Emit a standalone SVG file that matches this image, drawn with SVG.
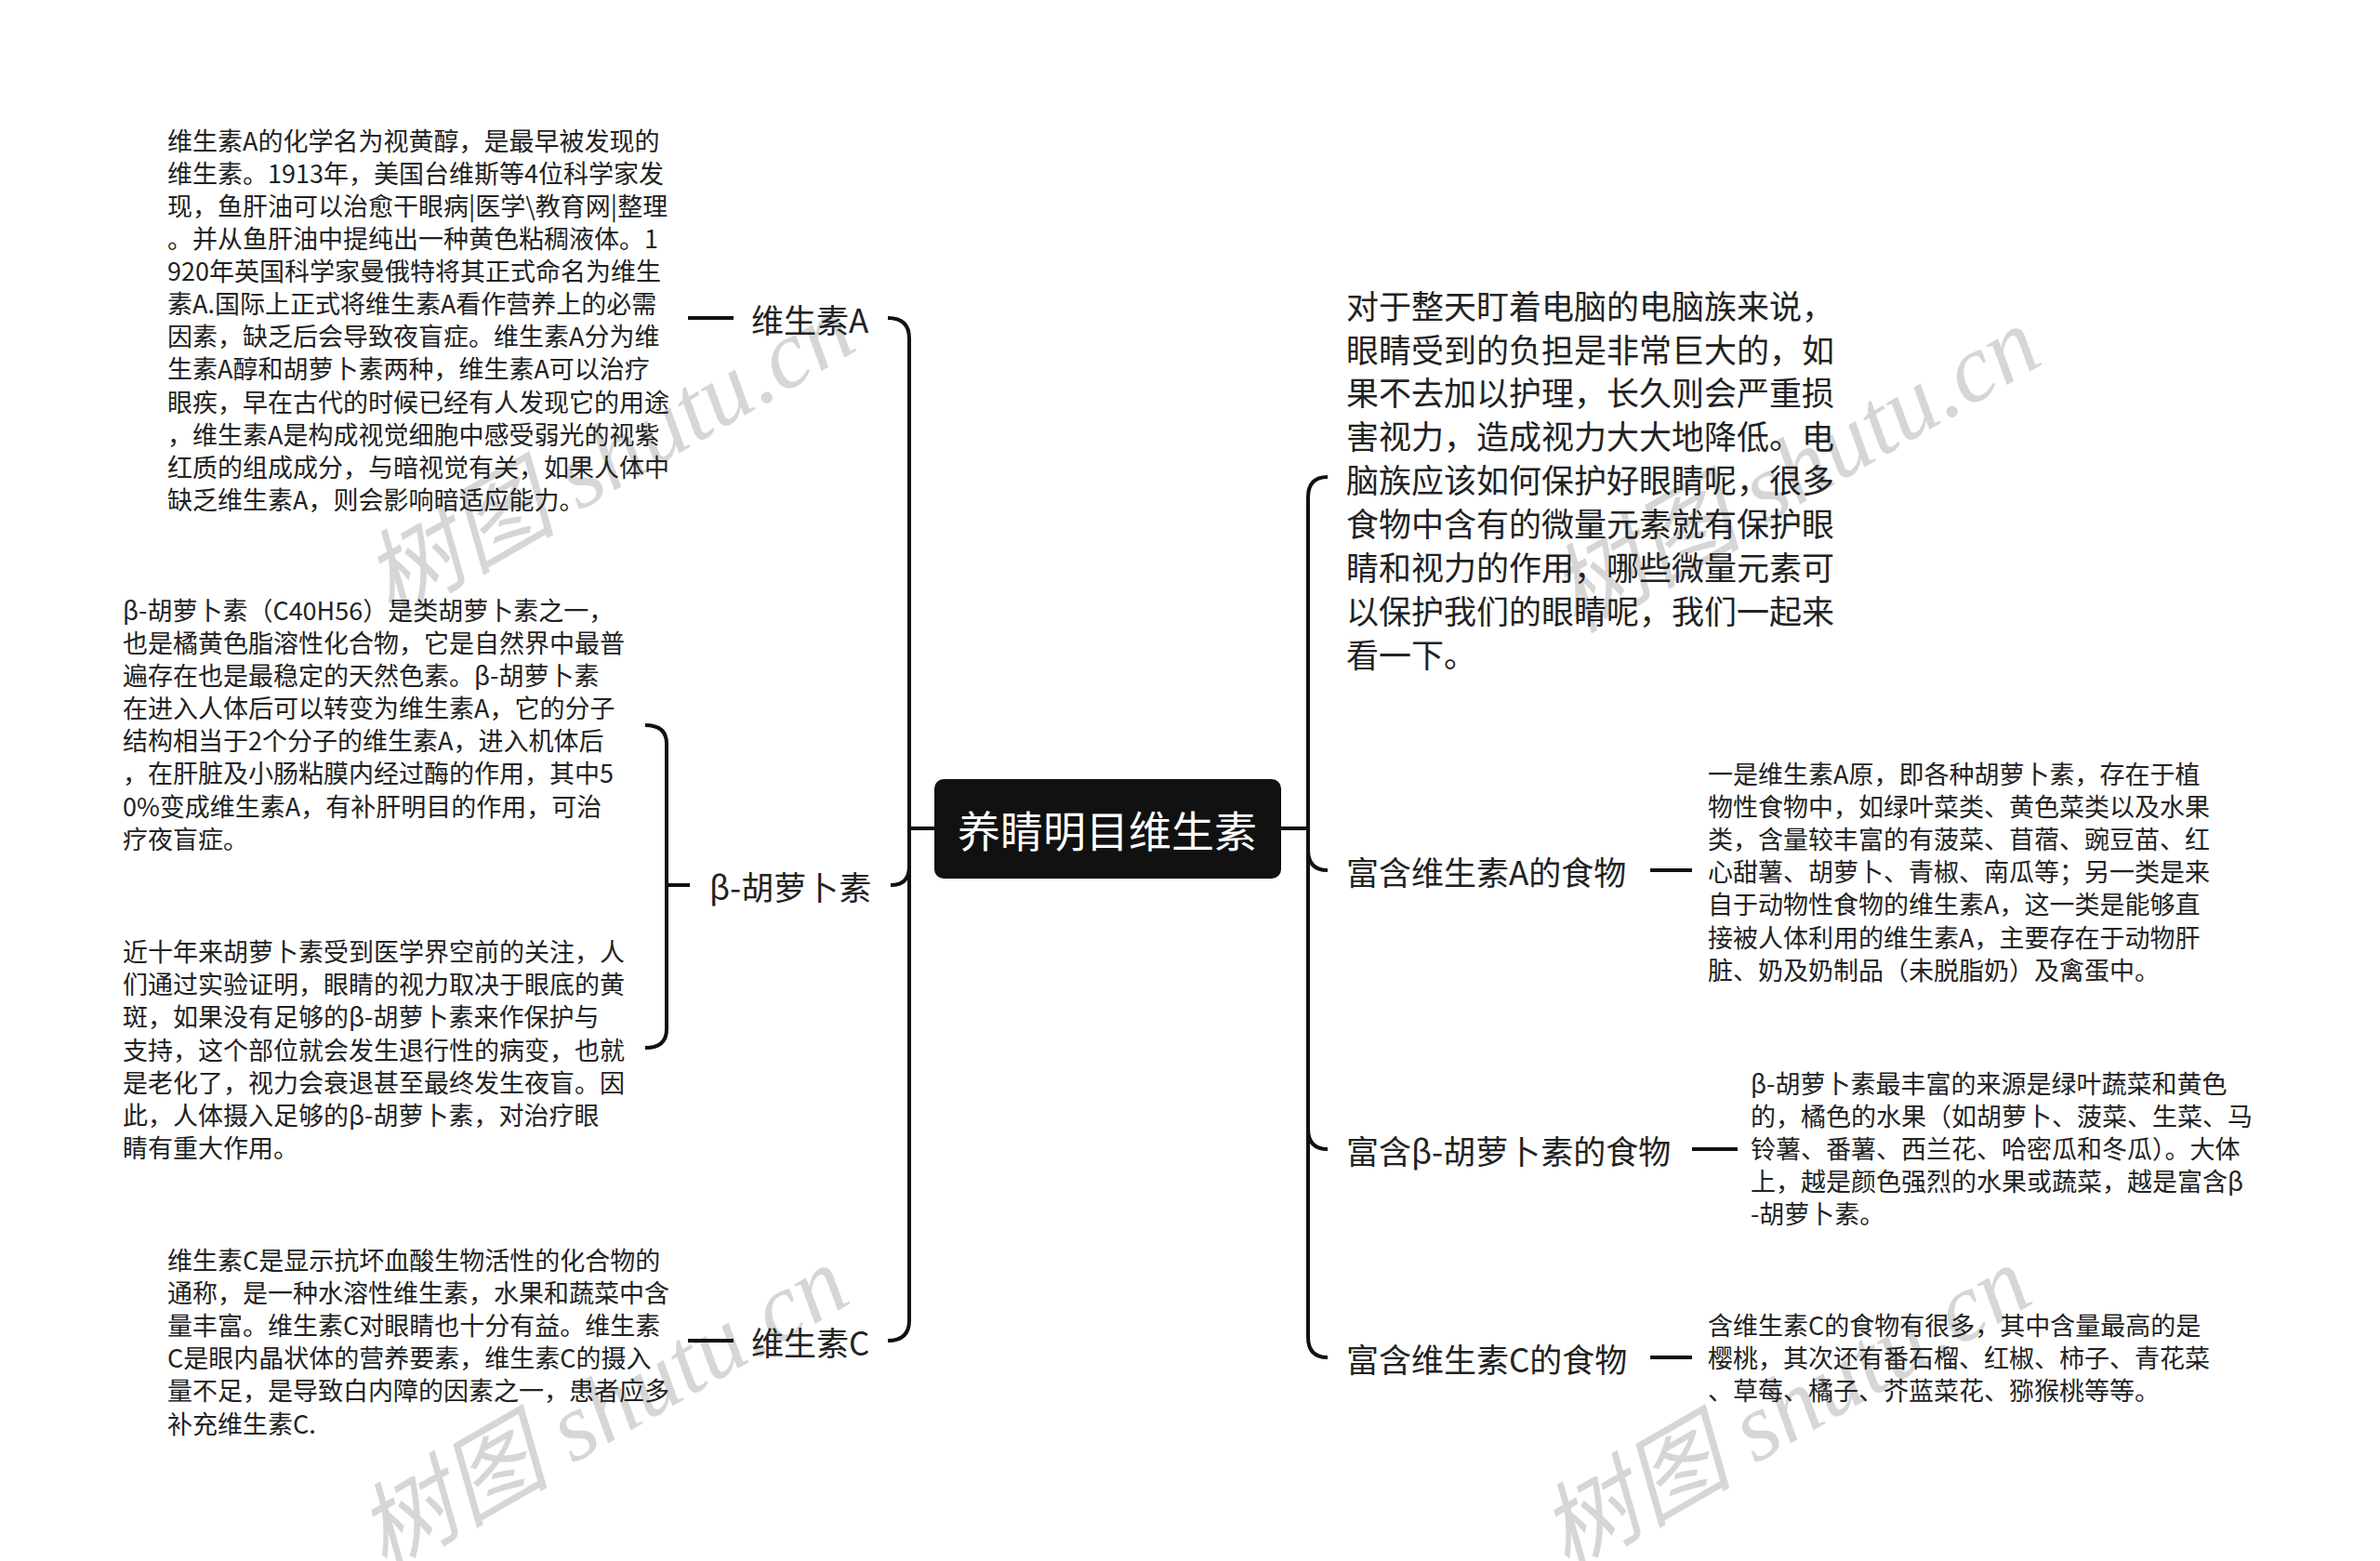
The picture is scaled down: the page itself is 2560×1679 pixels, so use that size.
<svg xmlns="http://www.w3.org/2000/svg" width="2560" height="1679" viewBox="0 0 2560 1679">
<style>
  .t{font-family:"Noto Sans CJK SC","Noto Sans",sans-serif;fill:#222;dominant-baseline:central}
  .s{font-size:27px}
  .m{font-size:35px}
  .root{font-family:"Noto Sans CJK SC","Noto Sans",sans-serif;font-size:46px;fill:#fff;dominant-baseline:central;text-anchor:middle}
  .wm{font-family:"Liberation Serif","Noto Sans CJK SC",serif;font-style:italic;font-size:104px;fill:#d6d6d6;text-anchor:middle;dominant-baseline:central}
  .ln{fill:none;stroke:#111;stroke-width:4;stroke-linecap:butt}
</style>
<rect width="2560" height="1679" fill="#fff"/>
<g id="watermarks">
  <text class="wm" transform="translate(655,490) rotate(-30)">树图 shutu.cn</text>
  <text class="wm" transform="translate(1930,505) rotate(-30)">树图 shutu.cn</text>
  <text class="wm" transform="translate(648,1515) rotate(-30)">树图 shutu.cn</text>
  <text class="wm" transform="translate(1920,1515) rotate(-30)">树图 shutu.cn</text>
</g>
<g id="connectors">
  <path class="ln" d="M978,891 L1005,891"/>
  <path class="ln" d="M955,342 Q978,342 978,364 L978,1420 Q978,1442 955,1442"/>
  <path class="ln" d="M978,932 Q978,952 958,952"/>
  <path class="ln" d="M740,342 L789,342"/>
  <path class="ln" d="M717,952 L742,952"/>
  <path class="ln" d="M740,1442 L789,1442"/>
  <path class="ln" d="M694,780 Q717,780 717,800 L717,1107 Q717,1127 694,1127"/>
  <path class="ln" d="M1378,891 L1407,891"/>
  <path class="ln" d="M1428,513 Q1407,513 1407,535 L1407,1438 Q1407,1460 1428,1460"/>
  <path class="ln" d="M1407,914 Q1407,936 1428,936"/>
  <path class="ln" d="M1407,1214 Q1407,1236 1428,1236"/>
  <path class="ln" d="M1775,936 L1820,936"/>
  <path class="ln" d="M1820,1236 L1869,1236"/>
  <path class="ln" d="M1775,1460 L1820,1460"/>
</g>
<g id="root">
  <rect x="1005" y="838" width="373" height="107" rx="10" fill="#111"/>
  <text class="root" x="1191" y="891">养睛明目维生素</text>
</g>
<g id="node-va">
  <text class="t m" x="808" y="342">维生素A</text>
</g>
<g id="node-va-desc">
  <text class="t s">
    <tspan x="180" y="150">维生素A的化学名为视黄醇，是最早被发现的</tspan>
    <tspan x="180" y="185">维生素。1913年，美国台维斯等4位科学家发</tspan>
    <tspan x="180" y="220">现，鱼肝油可以治愈干眼病|医学\教育网|整理</tspan>
    <tspan x="180" y="255">。并从鱼肝油中提纯出一种黄色粘稠液体。1</tspan>
    <tspan x="180" y="290">920年英国科学家曼俄特将其正式命名为维生</tspan>
    <tspan x="180" y="325">素A.国际上正式将维生素A看作营养上的必需</tspan>
    <tspan x="180" y="360">因素，缺乏后会导致夜盲症。维生素A分为维</tspan>
    <tspan x="180" y="395">生素A醇和胡萝卜素两种，维生素A可以治疗</tspan>
    <tspan x="180" y="431">眼疾，早在古代的时候已经有人发现它的用途</tspan>
    <tspan x="180" y="466">，维生素A是构成视觉细胞中感受弱光的视紫</tspan>
    <tspan x="180" y="501">红质的组成成分，与暗视觉有关，如果人体中</tspan>
    <tspan x="180" y="536">缺乏维生素A，则会影响暗适应能力。</tspan>
  </text>
</g>
<g id="node-bc">
  <text class="t m" x="763" y="952">β-胡萝卜素</text>
</g>
<g id="node-bc-desc1">
  <text class="t s">
    <tspan x="132" y="655">β-胡萝卜素（C40H56）是类胡萝卜素之一，</tspan>
    <tspan x="132" y="690">也是橘黄色脂溶性化合物，它是自然界中最普</tspan>
    <tspan x="132" y="725">遍存在也是最稳定的天然色素。β-胡萝卜素</tspan>
    <tspan x="132" y="760">在进入人体后可以转变为维生素A，它的分子</tspan>
    <tspan x="132" y="795">结构相当于2个分子的维生素A，进入机体后</tspan>
    <tspan x="132" y="830">，在肝脏及小肠粘膜内经过酶的作用，其中5</tspan>
    <tspan x="132" y="866">0%变成维生素A，有补肝明目的作用，可治</tspan>
    <tspan x="132" y="901">疗夜盲症。</tspan>
  </text>
</g>
<g id="node-bc-desc2">
  <text class="t s">
    <tspan x="132" y="1022">近十年来胡萝卜素受到医学界空前的关注，人</tspan>
    <tspan x="132" y="1057">们通过实验证明，眼睛的视力取决于眼底的黄</tspan>
    <tspan x="132" y="1092">斑，如果没有足够的β-胡萝卜素来作保护与</tspan>
    <tspan x="132" y="1128">支持，这个部位就会发生退行性的病变，也就</tspan>
    <tspan x="132" y="1163">是老化了，视力会衰退甚至最终发生夜盲。因</tspan>
    <tspan x="132" y="1198">此，人体摄入足够的β-胡萝卜素，对治疗眼</tspan>
    <tspan x="132" y="1233">睛有重大作用。</tspan>
  </text>
</g>
<g id="node-vc">
  <text class="t m" x="808" y="1442">维生素C</text>
</g>
<g id="node-vc-desc">
  <text class="t s">
    <tspan x="180" y="1354">维生素C是显示抗坏血酸生物活性的化合物的</tspan>
    <tspan x="180" y="1389">通称，是一种水溶性维生素，水果和蔬菜中含</tspan>
    <tspan x="180" y="1424">量丰富。维生素C对眼睛也十分有益。维生素</tspan>
    <tspan x="180" y="1459">C是眼内晶状体的营养要素，维生素C的摄入</tspan>
    <tspan x="180" y="1494">量不足，是导致白内障的因素之一，患者应多</tspan>
    <tspan x="180" y="1530">补充维生素C.</tspan>
  </text>
</g>
<g id="node-intro">
  <text class="t m">
    <tspan x="1448" y="327">对于整天盯着电脑的电脑族来说，</tspan>
    <tspan x="1448" y="374">眼睛受到的负担是非常巨大的，如</tspan>
    <tspan x="1448" y="420">果不去加以护理，长久则会严重损</tspan>
    <tspan x="1448" y="467">害视力，造成视力大大地降低。电</tspan>
    <tspan x="1448" y="514">脑族应该如何保护好眼睛呢，很多</tspan>
    <tspan x="1448" y="561">食物中含有的微量元素就有保护眼</tspan>
    <tspan x="1448" y="608">睛和视力的作用，哪些微量元素可</tspan>
    <tspan x="1448" y="655">以保护我们的眼睛呢，我们一起来</tspan>
    <tspan x="1448" y="702">看一下。</tspan>
  </text>
</g>
<g id="node-food-a">
  <text class="t m" x="1448" y="936">富含维生素A的食物</text>
</g>
<g id="node-food-a-desc">
  <text class="t s">
    <tspan x="1837" y="831">一是维生素A原，即各种胡萝卜素，存在于植</tspan>
    <tspan x="1837" y="866">物性食物中，如绿叶菜类、黄色菜类以及水果</tspan>
    <tspan x="1837" y="901">类，含量较丰富的有菠菜、苜蓿、豌豆苗、红</tspan>
    <tspan x="1837" y="936">心甜薯、胡萝卜、青椒、南瓜等；另一类是来</tspan>
    <tspan x="1837" y="971">自于动物性食物的维生素A，这一类是能够直</tspan>
    <tspan x="1837" y="1007">接被人体利用的维生素A，主要存在于动物肝</tspan>
    <tspan x="1837" y="1042">脏、奶及奶制品（未脱脂奶）及禽蛋中。</tspan>
  </text>
</g>
<g id="node-food-b">
  <text class="t m" x="1448" y="1236">富含β-胡萝卜素的食物</text>
</g>
<g id="node-food-b-desc">
  <text class="t s">
    <tspan x="1883" y="1164">β-胡萝卜素最丰富的来源是绿叶蔬菜和黄色</tspan>
    <tspan x="1883" y="1199">的，橘色的水果（如胡萝卜、菠菜、生菜、马</tspan>
    <tspan x="1883" y="1234">铃薯、番薯、西兰花、哈密瓜和冬瓜）。大体</tspan>
    <tspan x="1883" y="1269">上，越是颜色强烈的水果或蔬菜，越是富含β</tspan>
    <tspan x="1883" y="1304">-胡萝卜素。</tspan>
  </text>
</g>
<g id="node-food-c">
  <text class="t m" x="1448" y="1460">富含维生素C的食物</text>
</g>
<g id="node-food-c-desc">
  <text class="t s">
    <tspan x="1837" y="1424">含维生素C的食物有很多，其中含量最高的是</tspan>
    <tspan x="1837" y="1459">樱桃，其次还有番石榴、红椒、柿子、青花菜</tspan>
    <tspan x="1837" y="1494">、草莓、橘子、芥蓝菜花、猕猴桃等等。</tspan>
  </text>
</g>
</svg>
